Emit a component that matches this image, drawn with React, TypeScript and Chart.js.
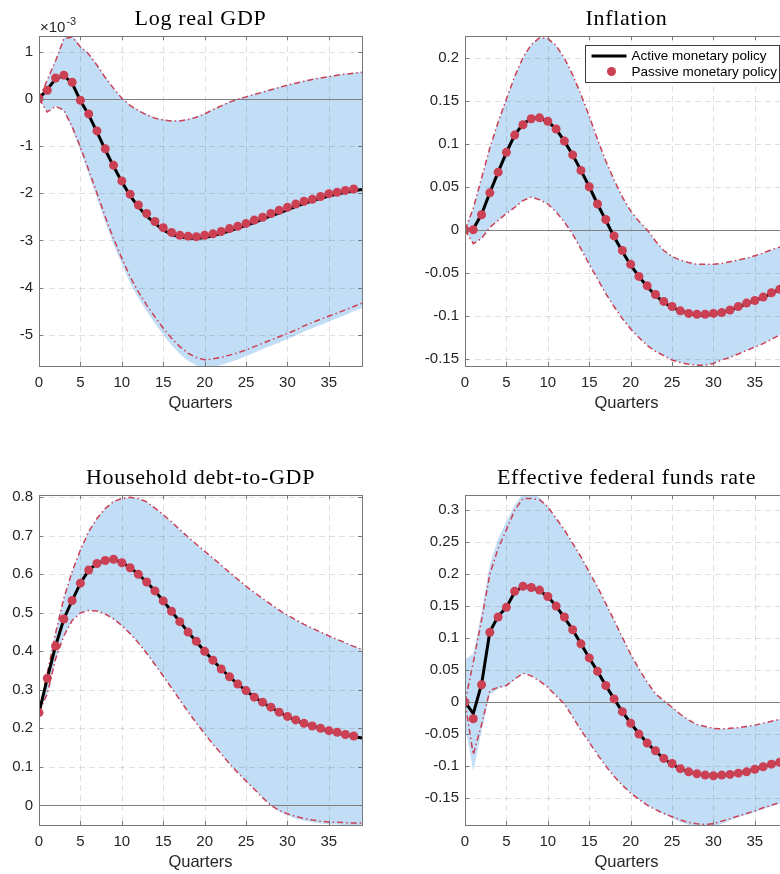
import React, { useEffect, useRef } from "react";
import { Chart, registerables } from "chart.js";

Chart.register(...registerables);

// ---------------- data ----------------
const QUARTERS = [0, 1, 2, 3, 4, 5, 6, 7, 8, 9, 10, 11, 12, 13, 14, 15, 16, 17, 18, 19, 20, 21, 22, 23, 24, 25, 26, 27, 28, 29, 30, 31, 32, 33, 34, 35, 36, 37, 38, 39];
const X_TICKS = [0, 5, 10, 15, 20, 25, 30, 35];

const LEGEND_LABELS = ["Active monetary policy", "Passive monetary policy"];
const TITLES = ["Log real GDP", "Inflation", "Household debt-to-GDP", "Effective federal funds rate"];

// Log real GDP (units of 1e-3)
const GDP_ACTIVE = [0, 0.2, 0.42, 0.49, 0.33, -0.04, -0.34, -0.7, -1.08, -1.43, -1.76, -2.05, -2.29, -2.48, -2.64, -2.78, -2.87, -2.93, -2.95, -2.96, -2.94, -2.9, -2.85, -2.8, -2.74, -2.68, -2.62, -2.55, -2.48, -2.42, -2.35, -2.28, -2.22, -2.16, -2.11, -2.06, -2.02, -1.98, -1.95, -1.92];
const GDP_PASSIVE = [0, 0.18, 0.44, 0.5, 0.35, -0.03, -0.32, -0.68, -1.06, -1.41, -1.74, -2.02, -2.25, -2.43, -2.6, -2.73, -2.83, -2.89, -2.91, -2.92, -2.89, -2.86, -2.81, -2.75, -2.7, -2.64, -2.57, -2.51, -2.43, -2.36, -2.3, -2.23, -2.17, -2.13, -2.07, -2.01, -1.98, -1.94, -1.91];
const GDP_CI_HI = [0, 0.4, 0.8, 1.27, 1.31, 1.1, 0.95, 0.71, 0.45, 0.22, 0.01, -0.14, -0.25, -0.34, -0.41, -0.45, -0.47, -0.47, -0.44, -0.39, -0.32, -0.23, -0.15, -0.07, -0.01, 0.04, 0.09, 0.14, 0.19, 0.24, 0.29, 0.33, 0.37, 0.41, 0.44, 0.47, 0.5, 0.52, 0.54, 0.56];
const GDP_CI_LO = [0, -0.28, -0.16, -0.24, -0.59, -1.02, -1.51, -2.0, -2.5, -2.96, -3.38, -3.77, -4.09, -4.37, -4.62, -4.86, -5.07, -5.25, -5.39, -5.48, -5.53, -5.51, -5.48, -5.43, -5.38, -5.32, -5.25, -5.18, -5.11, -5.04, -4.97, -4.9, -4.81, -4.74, -4.67, -4.6, -4.54, -4.47, -4.4, -4.33];
const GDP_BAND_HI = [0, 0.4, 0.82, 1.3, 1.35, 1.12, 0.96, 0.72, 0.46, 0.23, 0.02, -0.13, -0.24, -0.33, -0.4, -0.44, -0.46, -0.46, -0.43, -0.38, -0.31, -0.22, -0.14, -0.06, 0, 0.05, 0.1, 0.15, 0.2, 0.25, 0.3, 0.34, 0.38, 0.42, 0.45, 0.48, 0.51, 0.53, 0.55, 0.57];
const GDP_BAND_LO = [0, -0.28, -0.16, -0.26, -0.64, -1.09, -1.6, -2.1, -2.61, -3.08, -3.5, -3.9, -4.22, -4.5, -4.76, -5.0, -5.22, -5.4, -5.55, -5.65, -5.7, -5.68, -5.64, -5.58, -5.52, -5.45, -5.38, -5.3, -5.23, -5.16, -5.09, -5.02, -4.93, -4.86, -4.79, -4.72, -4.65, -4.58, -4.5, -4.43];

// Inflation
const INF_ACTIVE = [0, 0.001, 0.018, 0.043, 0.067, 0.09, 0.11, 0.123, 0.129, 0.13, 0.126, 0.117, 0.103, 0.087, 0.069, 0.05, 0.03, 0.011, -0.008, -0.025, -0.041, -0.054, -0.066, -0.076, -0.084, -0.09, -0.094, -0.097, -0.099, -0.099, -0.098, -0.096, -0.093, -0.09, -0.086, -0.082, -0.078, -0.074, -0.069, -0.065];
const INF_PASSIVE = [0, 0, 0.0175, 0.043, 0.067, 0.09, 0.11, 0.122, 0.129, 0.13, 0.126, 0.117, 0.103, 0.087, 0.069, 0.05, 0.03, 0.012, -0.007, -0.024, -0.04, -0.054, -0.065, -0.075, -0.083, -0.089, -0.094, -0.097, -0.098, -0.098, -0.097, -0.096, -0.093, -0.089, -0.085, -0.082, -0.078, -0.073, -0.069];
const INF_CI_HI = [0, 0.025, 0.06, 0.095, 0.125, 0.152, 0.178, 0.2, 0.215, 0.223, 0.222, 0.214, 0.199, 0.18, 0.157, 0.132, 0.105, 0.08, 0.058, 0.038, 0.022, 0.01, 0.0, -0.013, -0.024, -0.031, -0.035, -0.038, -0.04, -0.04, -0.04, -0.039, -0.037, -0.035, -0.033, -0.03, -0.027, -0.023, -0.02, -0.017];
const INF_CI_LO = [0, -0.016, -0.01, 0.003, 0.011, 0.019, 0.026, 0.034, 0.038, 0.035, 0.03, 0.021, 0.009, -0.005, -0.022, -0.04, -0.057, -0.074, -0.089, -0.103, -0.115, -0.125, -0.134, -0.141, -0.146, -0.151, -0.154, -0.156, -0.157, -0.157, -0.155, -0.151, -0.148, -0.144, -0.14, -0.136, -0.132, -0.127, -0.122, -0.118];
const INF_BAND_HI = INF_CI_HI;
const INF_BAND_LO = INF_CI_LO;

// Household debt-to-GDP
const DEBT_ACTIVE = [0.241, 0.33, 0.414, 0.484, 0.532, 0.577, 0.611, 0.628, 0.636, 0.639, 0.631, 0.618, 0.6, 0.58, 0.557, 0.531, 0.504, 0.477, 0.45, 0.425, 0.4, 0.377, 0.354, 0.334, 0.315, 0.298, 0.281, 0.267, 0.254, 0.242, 0.231, 0.221, 0.213, 0.206, 0.199, 0.193, 0.188, 0.183, 0.179, 0.175];
const DEBT_PASSIVE = [0.241, 0.33, 0.414, 0.484, 0.532, 0.577, 0.611, 0.628, 0.636, 0.639, 0.63, 0.617, 0.6, 0.58, 0.557, 0.531, 0.504, 0.477, 0.45, 0.426, 0.4, 0.377, 0.354, 0.334, 0.315, 0.298, 0.281, 0.268, 0.255, 0.242, 0.231, 0.222, 0.213, 0.206, 0.2, 0.194, 0.19, 0.184, 0.18];
const DEBT_CI_HI = [0.241, 0.343, 0.447, 0.538, 0.607, 0.663, 0.711, 0.745, 0.771, 0.789, 0.797, 0.8, 0.797, 0.788, 0.772, 0.755, 0.736, 0.716, 0.697, 0.678, 0.66, 0.642, 0.624, 0.605, 0.587, 0.569, 0.553, 0.537, 0.522, 0.507, 0.494, 0.482, 0.47, 0.46, 0.45, 0.44, 0.431, 0.422, 0.413, 0.405];
const DEBT_CI_LO = [0.241, 0.29, 0.38, 0.44, 0.48, 0.5, 0.506, 0.505, 0.497, 0.484, 0.467, 0.446, 0.422, 0.395, 0.366, 0.336, 0.305, 0.274, 0.243, 0.214, 0.186, 0.159, 0.134, 0.108, 0.085, 0.063, 0.042, 0.02, 0.0, -0.013, -0.022, -0.029, -0.034, -0.038, -0.041, -0.043, -0.044, -0.045, -0.046, -0.046];
const DEBT_BAND_HI = DEBT_CI_HI;
const DEBT_BAND_LO = [0.241, 0.29, 0.38, 0.44, 0.48, 0.5, 0.506, 0.505, 0.497, 0.484, 0.467, 0.446, 0.422, 0.395, 0.366, 0.336, 0.305, 0.274, 0.243, 0.214, 0.186, 0.159, 0.134, 0.108, 0.085, 0.063, 0.042, 0.02, 0.0, -0.016, -0.026, -0.034, -0.04, -0.044, -0.047, -0.049, -0.05, -0.051, -0.051, -0.051];

// Effective federal funds rate
const FFR_ACTIVE = [0, -0.018, 0.028, 0.11, 0.134, 0.148, 0.172, 0.181, 0.179, 0.174, 0.165, 0.15, 0.132, 0.113, 0.091, 0.069, 0.048, 0.026, 0.005, -0.015, -0.033, -0.049, -0.064, -0.077, -0.088, -0.097, -0.104, -0.109, -0.112, -0.114, -0.115, -0.115, -0.113, -0.111, -0.108, -0.105, -0.101, -0.097, -0.094, -0.09];
const FFR_PASSIVE = [0, -0.026, 0.027, 0.109, 0.133, 0.148, 0.173, 0.181, 0.179, 0.175, 0.165, 0.15, 0.133, 0.113, 0.091, 0.069, 0.048, 0.026, 0.005, -0.015, -0.033, -0.05, -0.064, -0.076, -0.088, -0.096, -0.104, -0.109, -0.112, -0.114, -0.115, -0.114, -0.113, -0.111, -0.109, -0.105, -0.101, -0.097, -0.094];
const FFR_CI_HI = [0, 0.062, 0.128, 0.2, 0.24, 0.269, 0.3, 0.318, 0.318, 0.316, 0.305, 0.287, 0.269, 0.248, 0.227, 0.203, 0.18, 0.154, 0.128, 0.101, 0.075, 0.052, 0.031, 0.013, 0.002, -0.008, -0.019, -0.028, -0.035, -0.038, -0.041, -0.042, -0.041, -0.04, -0.038, -0.036, -0.033, -0.03, -0.027, -0.024];
const FFR_CI_LO = [0, -0.082, -0.035, 0.018, 0.023, 0.026, 0.036, 0.045, 0.041, 0.033, 0.023, 0.01, -0.003, -0.023, -0.044, -0.063, -0.082, -0.1, -0.116, -0.13, -0.142, -0.152, -0.161, -0.168, -0.174, -0.179, -0.184, -0.188, -0.19, -0.191, -0.19, -0.186, -0.182, -0.178, -0.174, -0.17, -0.165, -0.161, -0.157, -0.153];
const FFR_BAND_HI = [0.067, 0.075, 0.14, 0.215, 0.255, 0.282, 0.308, 0.326, 0.326, 0.32, 0.305, 0.287, 0.269, 0.248, 0.227, 0.203, 0.18, 0.154, 0.128, 0.101, 0.075, 0.052, 0.031, 0.013, 0.002, -0.008, -0.019, -0.028, -0.035, -0.038, -0.041, -0.042, -0.041, -0.04, -0.038, -0.036, -0.033, -0.03, -0.027, -0.024];
const FFR_BAND_LO = [-0.035, -0.108, -0.045, 0.012, 0.021, 0.025, 0.035, 0.045, 0.041, 0.033, 0.023, 0.01, -0.003, -0.023, -0.044, -0.063, -0.082, -0.1, -0.116, -0.13, -0.142, -0.152, -0.161, -0.168, -0.175, -0.181, -0.187, -0.192, -0.195, -0.196, -0.195, -0.19, -0.185, -0.18, -0.176, -0.172, -0.167, -0.163, -0.159, -0.155];

// ---------------- styles ----------------
const RED = "rgb(204,64,84)";
const BLUE = "rgb(194,221,246)";
const AXIS = "rgb(120,120,120)";
const TEXT = "rgb(38,38,38)";
const SANS = '"Liberation Sans", Arial, Helvetica, sans-serif';
const SERIF = '"Liberation Serif", "Times New Roman", serif';

type Panel = {
  title: string;
  left: number; top: number; width: number; height: number;
  padTop: number; padRight: number; yWidth: number; xHeight: number;
  yMin: number; yMax: number; yStep: number;
  active: number[]; passive: number[];
  ciHi: number[]; ciLo: number[]; bandHi: number[]; bandLo: number[];
  exponent?: string; legend?: boolean;
};

const PANELS: Panel[] = [
  { title: TITLES[0], left: 0, top: 0, width: 380, height: 430, padTop: 36, padRight: 18, yWidth: 39, xHeight: 64,
    yMin: -5.66, yMax: 1.33, yStep: 1, active: GDP_ACTIVE, passive: GDP_PASSIVE, ciHi: GDP_CI_HI, ciLo: GDP_CI_LO,
    bandHi: GDP_BAND_HI, bandLo: GDP_BAND_LO, exponent: "-3" },
  { title: TITLES[1], left: 400, top: 0, width: 400, height: 430, padTop: 36, padRight: 12, yWidth: 65, xHeight: 64,
    yMin: -0.158, yMax: 0.225, yStep: 0.05, active: INF_ACTIVE, passive: INF_PASSIVE, ciHi: INF_CI_HI, ciLo: INF_CI_LO,
    bandHi: INF_BAND_HI, bandLo: INF_BAND_LO, legend: true },
  { title: TITLES[2], left: 0, top: 440, width: 380, height: 434, padTop: 55, padRight: 18, yWidth: 39, xHeight: 49,
    yMin: -0.051, yMax: 0.806, yStep: 0.1, active: DEBT_ACTIVE, passive: DEBT_PASSIVE, ciHi: DEBT_CI_HI, ciLo: DEBT_CI_LO,
    bandHi: DEBT_BAND_HI, bandLo: DEBT_BAND_LO },
  { title: TITLES[3], left: 400, top: 440, width: 400, height: 434, padTop: 55, padRight: 12, yWidth: 65, xHeight: 49,
    yMin: -0.192, yMax: 0.3235, yStep: 0.05, active: FFR_ACTIVE, passive: FFR_PASSIVE, ciHi: FFR_CI_HI, ciLo: FFR_CI_LO,
    bandHi: FFR_BAND_HI, bandLo: FFR_BAND_LO },
];

const pts = (arr: number[]) => arr.map((v, i) => ({ x: QUARTERS[i], y: v }));
const fmt = (v: number) => String(parseFloat(Number(v).toFixed(3)));

const decorPlugin = {
  id: "decor",
  afterDatasetDraw(chart: any, args: any) {
    if (args.index !== 4) return;
    const { ctx, chartArea: a } = chart;
    const x = chart.scales.x;
    const y = chart.scales.y;
    ctx.save();
    ctx.beginPath();
    ctx.rect(a.left, a.top, a.right - a.left, a.bottom - a.top);
    ctx.clip();
    ctx.strokeStyle = "rgba(38,38,38,0.14)";
    ctx.lineWidth = 1;
    ctx.setLineDash([6, 4]);
    x.ticks.forEach((t: any) => {
      const px = Math.round(x.getPixelForValue(t.value)) + 0.5;
      if (px <= a.left + 1) return;
      ctx.beginPath();
      ctx.moveTo(px, a.top);
      ctx.lineTo(px, a.bottom);
      ctx.stroke();
    });
    y.ticks.forEach((t: any) => {
      const py = Math.round(y.getPixelForValue(t.value)) + 0.5;
      ctx.beginPath();
      ctx.moveTo(a.left, py);
      ctx.lineTo(a.right, py);
      ctx.stroke();
    });
    ctx.setLineDash([]);
    ctx.strokeStyle = "rgb(128,128,128)";
    const zy = Math.round(y.getPixelForValue(0)) + 0.5;
    ctx.beginPath();
    ctx.moveTo(a.left, zy);
    ctx.lineTo(a.right, zy);
    ctx.stroke();
    ctx.restore();
  },
  afterDraw(chart: any, _args: any, opts: any) {
    const { ctx, chartArea: a } = chart;
    const x = chart.scales.x;
    const y = chart.scales.y;
    ctx.save();
    // axes box
    ctx.strokeStyle = AXIS;
    ctx.lineWidth = 1;
    ctx.strokeRect(Math.round(a.left) + 0.5, Math.round(a.top) + 0.5, Math.round(a.right - a.left), Math.round(a.bottom - a.top));
    // inward tick marks
    const tl = 4;
    x.ticks.forEach((t: any) => {
      const px = Math.round(x.getPixelForValue(t.value)) + 0.5;
      ctx.beginPath();
      ctx.moveTo(px, a.bottom);
      ctx.lineTo(px, a.bottom - tl);
      ctx.moveTo(px, a.top);
      ctx.lineTo(px, a.top + tl);
      ctx.stroke();
    });
    y.ticks.forEach((t: any) => {
      const py = Math.round(y.getPixelForValue(t.value)) + 0.5;
      ctx.beginPath();
      ctx.moveTo(a.left, py);
      ctx.lineTo(a.left + tl, py);
      ctx.moveTo(a.right, py);
      ctx.lineTo(a.right - tl, py);
      ctx.stroke();
    });
    const cx = (a.left + a.right) / 2;
    // title
    ctx.fillStyle = "#000";
    ctx.font = `22px ${SERIF}`;
    (ctx as any).letterSpacing = "0.7px";
    ctx.textAlign = "center";
    ctx.textBaseline = "alphabetic";
    ctx.fillText(opts.title, cx, a.top - 11);
    (ctx as any).letterSpacing = "0px";
    // x axis label
    ctx.fillStyle = TEXT;
    ctx.font = `16.5px ${SANS}`;
    ctx.textBaseline = "middle";
    ctx.fillText("Quarters", cx, a.bottom + 37);
    // exponent
    if (opts.exponent) {
      ctx.textAlign = "left";
      ctx.textBaseline = "alphabetic";
      ctx.font = `15px ${SANS}`;
      ctx.fillText("\u00d710", a.left + 1, a.top - 4);
      const w = ctx.measureText("\u00d710").width;
      ctx.font = `11px ${SANS}`;
      ctx.fillText(opts.exponent, a.left + 2 + w, a.top - 11);
    }
    // legend
    if (opts.legend) {
      const bw = 194, bh = 37;
      const bx = Math.round(a.right - 9 - bw) + 0.5;
      const by = Math.round(a.top + 9) + 0.5;
      ctx.fillStyle = "#fff";
      ctx.fillRect(bx, by, bw, bh);
      ctx.strokeStyle = "rgb(60,60,60)";
      ctx.lineWidth = 1;
      ctx.strokeRect(bx, by, bw, bh);
      ctx.strokeStyle = "#000";
      ctx.lineWidth = 3;
      ctx.beginPath();
      ctx.moveTo(bx + 6, by + 10.5);
      ctx.lineTo(bx + 41, by + 10.5);
      ctx.stroke();
      ctx.fillStyle = RED;
      ctx.beginPath();
      ctx.arc(bx + 26, by + 26, 4.5, 0, Math.PI * 2);
      ctx.fill();
      ctx.fillStyle = "#000";
      ctx.font = `13.5px ${SANS}`;
      ctx.textAlign = "left";
      ctx.textBaseline = "middle";
      ctx.fillText(opts.legendLabels[0], bx + 46, by + 11);
      ctx.fillText(opts.legendLabels[1], bx + 46, by + 26.5);
    }
    ctx.restore();
  },
};

function PanelChart({ p }: { p: Panel }) {
  const ref = useRef<HTMLCanvasElement | null>(null);
  useEffect(() => {
    if (!ref.current) return;
    const tickFont = { family: SANS, size: 15 };
    const chart = new Chart(ref.current, {
      type: "line",
      data: {
        datasets: [
          { label: LEGEND_LABELS[1], data: pts(p.passive), showLine: false, pointStyle: "circle", pointRadius: 4.5,
            pointBackgroundColor: RED, pointBorderWidth: 0, borderColor: RED, fill: false },
          { label: LEGEND_LABELS[0], data: pts(p.active), borderColor: "#000", borderWidth: 3, pointRadius: 0,
            tension: 0, fill: false },
          { label: "ci-hi", data: pts(p.ciHi), borderColor: RED, borderWidth: 1.5, borderDash: [6, 3, 1.5, 3],
            pointRadius: 0, tension: 0, fill: false },
          { label: "ci-lo", data: pts(p.ciLo), borderColor: RED, borderWidth: 1.5, borderDash: [6, 3, 1.5, 3],
            pointRadius: 0, tension: 0, fill: false },
          { label: "band-hi", data: pts(p.bandHi), borderWidth: 0, borderColor: "rgba(0,0,0,0)", pointRadius: 0,
            tension: 0, fill: "+1", backgroundColor: BLUE },
          { label: "band-lo", data: pts(p.bandLo), borderWidth: 0, borderColor: "rgba(0,0,0,0)", pointRadius: 0,
            tension: 0, fill: false },
        ],
      },
      options: {
        responsive: false,
        animation: false,
        devicePixelRatio: 1,
        events: [],
        layout: { padding: { left: 0, right: p.padRight, top: p.padTop, bottom: 0 } },
        plugins: {
          legend: { display: false },
          tooltip: { enabled: false },
          title: { display: false },
          decor: { title: p.title, exponent: p.exponent, legend: !!p.legend, legendLabels: LEGEND_LABELS },
        } as any,
        scales: {
          x: {
            type: "linear",
            min: QUARTERS[0],
            max: QUARTERS[QUARTERS.length - 1],
            grid: { display: false, drawTicks: false },
            border: { display: false },
            afterBuildTicks: (s: any) => { s.ticks = X_TICKS.map((v) => ({ value: v })); },
            ticks: { color: TEXT, font: tickFont, padding: 8, maxRotation: 0, autoSkip: false },
            afterFit: (s: any) => { s.height = p.xHeight; },
          },
          y: {
            type: "linear",
            min: p.yMin,
            max: p.yMax,
            grid: { display: false, drawTicks: false },
            border: { display: false },
            ticks: { stepSize: p.yStep, includeBounds: false, color: TEXT, font: tickFont, padding: 6,
              callback: (v: any) => fmt(v) },
            afterFit: (s: any) => { s.width = p.yWidth; },
          },
        },
      },
      plugins: [decorPlugin],
    } as any);
    return () => chart.destroy();
  }, [p]);
  return (
    <canvas
      ref={ref}
      width={p.width}
      height={p.height}
      style={{ position: "absolute", left: p.left, top: p.top, width: p.width, height: p.height }}
    />
  );
}

export default function App() {
  return (
    <div style={{ position: "fixed", left: 0, top: 0, width: 780, height: 874, overflow: "hidden", background: "#fff" }}>
      {PANELS.map((p, i) => (
        <PanelChart key={i} p={p} />
      ))}
    </div>
  );
}
